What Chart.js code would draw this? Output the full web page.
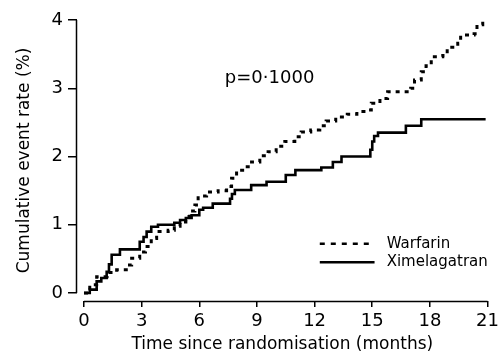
<!DOCTYPE html>
<html><head><meta charset="utf-8">
<script src="https://cdn.jsdelivr.net/npm/chart.js@4.4.1/dist/chart.umd.min.js"></script>
<style>html,body{margin:0;padding:0;background:#fff;}#wrap{width:503px;height:357px;position:relative;}</style>
</head><body><div id="wrap"><canvas id="c" width="503" height="357"></canvas></div>
<script>
const seriesNames = ['Warfarin', 'Ximelagatran'];
const warfarinMonths = [0, 0.3, 0.66, 1.2, 1.7, 2.2, 2.48, 2.9, 3.2, 3.5, 3.78, 4.38, 4.7, 5.0, 5.3, 5.5, 5.77, 5.94, 6.38, 6.98, 7.42, 7.68, 7.94, 8.37, 8.72, 9.15, 9.58, 10.0, 10.45, 10.97, 11.3, 11.8, 12.27, 12.6, 13.1, 13.7, 14.2, 14.8, 14.95, 15.4, 15.8, 16.9, 17.0, 17.2, 17.55, 17.8, 18.07, 18.67, 18.9, 19.45, 19.6, 20.3, 20.45, 20.75];
const warfarinRates  = [0, 0.12, 0.24, 0.30, 0.34, 0.41, 0.51, 0.60, 0.68, 0.80, 0.90, 0.92, 0.98, 1.04, 1.12, 1.20, 1.29, 1.42, 1.48, 1.50, 1.56, 1.68, 1.80, 1.85, 1.92, 2.01, 2.07, 2.15, 2.22, 2.29, 2.36, 2.39, 2.45, 2.52, 2.58, 2.62, 2.66, 2.68, 2.78, 2.85, 2.95, 2.97, 3.00, 3.12, 3.24, 3.33, 3.46, 3.48, 3.60, 3.66, 3.78, 3.80, 3.93, 4.02];
const ximelagatranMonths = [0, 0.3, 0.66, 0.9, 1.18, 1.3, 1.44, 1.87, 2.9, 3.1, 3.26, 3.5, 3.85, 4.7, 5.0, 5.3, 5.6, 6.0, 6.2, 6.7, 7.6, 7.7, 7.85, 8.7, 9.5, 10.5, 11.0, 12.35, 12.95, 13.4, 14.9, 15.0, 15.1, 15.3, 16.75, 17.55, 20.9];
const ximelagatranRates  = [0, 0.05, 0.17, 0.22, 0.31, 0.42, 0.56, 0.64, 0.75, 0.82, 0.90, 0.97, 1.00, 1.03, 1.07, 1.10, 1.14, 1.22, 1.25, 1.31, 1.38, 1.45, 1.51, 1.58, 1.63, 1.73, 1.80, 1.84, 1.92, 2.00, 2.10, 2.22, 2.30, 2.35, 2.45, 2.545, 2.545];
const xTicks = [0, 3, 6, 9, 12, 15, 18, 21];
const yTicks = [0, 1, 2, 3, 4];
const xTitle = 'Time since randomisation (months)';
const yTitle = 'Cumulative event rate (%)';
const pValueText = 'p=0·1000';

const FONT = 'DejaVu Sans';
const toPts = (xs, ys) => xs.map((m, i) => ({ x: m, y: ys[i] }));

const decor = {
  id: 'decor',
  afterDraw(chart) {
    const { ctx, scales: { x, y }, chartArea: a } = chart;
    ctx.save();
    ctx.strokeStyle = '#000';
    ctx.lineWidth = 1.5;
    ctx.beginPath();
    ctx.moveTo(x.getPixelForValue(xTicks[0]), a.bottom + 0.5);
    ctx.lineTo(x.getPixelForValue(xTicks[xTicks.length - 1]), a.bottom + 0.5);
    ctx.moveTo(a.left - 0.5, y.getPixelForValue(yTicks[yTicks.length - 1]));
    ctx.lineTo(a.left - 0.5, y.getPixelForValue(yTicks[0]));
    ctx.stroke();
    // p-value
    ctx.fillStyle = '#000';
    ctx.font = '18px "' + FONT + '"';
    ctx.textAlign = 'left';
    ctx.textBaseline = 'middle';
    ctx.fillText(pValueText, x.getPixelForValue(7.33), y.getPixelForValue(3.15));
    // legend
    const lx0 = x.getPixelForValue(12.27), lx1 = x.getPixelForValue(15.12), tx = x.getPixelForValue(15.75);
    const ly = [y.getPixelForValue(0.72), y.getPixelForValue(0.45)];
    ctx.lineWidth = 2.5;
    ctx.setLineDash([5, 6]);
    ctx.beginPath(); ctx.moveTo(lx0, ly[0]); ctx.lineTo(lx1, ly[0]); ctx.stroke();
    ctx.setLineDash([]);
    ctx.beginPath(); ctx.moveTo(lx0, ly[1]); ctx.lineTo(lx1, ly[1]); ctx.stroke();
    ctx.font = '15px "' + FONT + '"';
    ctx.fillText(seriesNames[0], tx, ly[0]);
    ctx.fillText(seriesNames[1], tx, ly[1]);
    ctx.restore();
  }
};

new Chart(document.getElementById('c'), {
  type: 'line',
  data: {
    datasets: [
      { label: seriesNames[0], data: toPts(warfarinMonths, warfarinRates), stepped: true,
        borderColor: '#000', borderWidth: 3, borderDash: [4, 5], pointRadius: 0, fill: false, clip: false },
      { label: seriesNames[1], data: toPts(ximelagatranMonths, ximelagatranRates), stepped: true,
        borderColor: '#000', borderWidth: 2.6, pointRadius: 0, fill: false, clip: false }
    ]
  },
  options: {
    responsive: false,
    animation: false,
    devicePixelRatio: 1,
    layout: { padding: { top: 20, right: 15, left: 0, bottom: 0 } },
    plugins: { legend: { display: false }, tooltip: { enabled: false } },
    scales: {
      x: {
        type: 'linear', min: -0.364, max: 21,
        afterBuildTicks: s => { s.ticks = xTicks.map(v => ({ value: v })); },
        afterFit: s => { s.height = 56; },
        grid: { display: true, drawOnChartArea: false, drawTicks: true, tickLength: 6, color: '#000', lineWidth: 1.5 },
        border: { display: false },
        ticks: { color: '#000', font: { family: FONT, size: 18 }, padding: 4, maxRotation: 0, autoSkip: false },
        title: { display: true, text: xTitle, color: '#000', font: { family: FONT, size: 17 }, padding: { top: 0, bottom: 2 } }
      },
      y: {
        type: 'linear', min: -0.117, max: 4,
        afterBuildTicks: s => { s.ticks = yTicks.map(v => ({ value: v })); },
        afterFit: s => { s.width = 77; },
        grid: { display: true, drawOnChartArea: false, drawTicks: true, tickLength: 9, color: '#000', lineWidth: 1.5 },
        border: { display: false },
        ticks: { color: '#000', font: { family: FONT, size: 18 }, padding: 5, autoSkip: false },
        title: { display: true, text: yTitle, color: '#000', font: { family: FONT, size: 17 }, padding: { top: 14, bottom: 0 } }
      }
    }
  },
  plugins: [decor]
});
</script></body></html>
